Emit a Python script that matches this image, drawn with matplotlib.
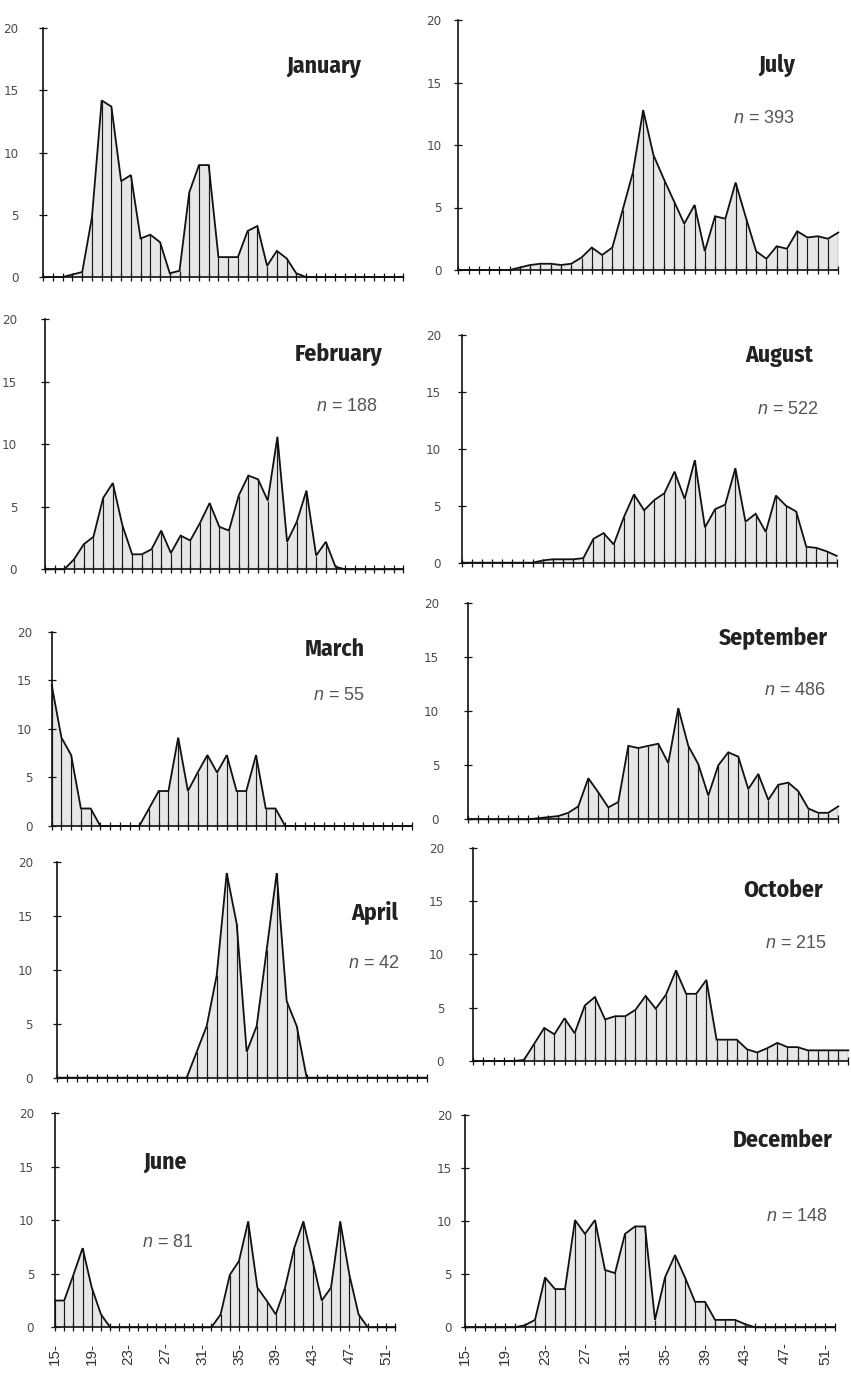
import numpy as np
import matplotlib
matplotlib.use("Agg")
import matplotlib.pyplot as plt

# Weekly categories (week 15 .. week 52)
weeks = np.arange(15, 53)
label_weeks = [15, 19, 23, 27, 31, 35, 39, 43, 47, 51]
y_ticks = [0, 5, 10, 15, 20]

months = ["January", "July", "February", "August", "March",
          "September", "April", "October", "June", "December"]
n_counts = [None, 393, 188, 522, 55, 486, 42, 215, 81, 148]

# Percentage of records per week
january = [0, 0, 0, 0.2, 0.4, 4.8, 14.2, 13.7, 7.7, 8.2, 3.1, 3.4, 2.8, 0.3, 0.5,
           6.8, 9.0, 9.0, 1.6, 1.6, 1.6, 3.7, 4.1, 0.9, 2.1, 1.5, 0.3,
           0, 0, 0, 0, 0, 0, 0, 0, 0, 0, 0]
july = [0, 0, 0, 0, 0, 0, 0.2, 0.4, 0.5, 0.5, 0.4, 0.5, 1.0, 1.8, 1.2, 1.8,
        4.8, 7.8, 12.8, 9.2, 7.3, 5.5, 3.7, 5.2, 1.5, 4.3, 4.1, 7.0, 4.2, 1.5,
        0.9, 1.9, 1.7, 3.1, 2.6, 2.7, 2.5, 3.0]
february = [0, 0, 0, 0.8, 2.0, 2.6, 5.7, 6.9, 3.5, 1.2, 1.2, 1.6, 3.1, 1.3, 2.7,
            2.3, 3.7, 5.3, 3.4, 3.1, 5.9, 7.5, 7.2, 5.5, 10.6, 2.2, 3.8, 6.3,
            1.1, 2.2, 0.2, 0, 0, 0, 0, 0, 0, 0]
august = [0, 0, 0, 0, 0, 0, 0, 0, 0.2, 0.3, 0.3, 0.3, 0.4, 2.1, 2.6, 1.6, 4.0,
          6.0, 4.6, 5.5, 6.1, 8.0, 5.6, 9.0, 3.1, 4.7, 5.1, 8.3, 3.6, 4.3, 2.7,
          5.9, 5.0, 4.5, 1.4, 1.3, 1.0, 0.6]
march = [14.5, 9.1, 7.3, 1.8, 1.8, 0, 0, 0, 0, 0, 1.8, 3.6, 3.6, 9.1, 3.6, 5.5,
         7.3, 5.5, 7.3, 3.6, 3.6, 7.3, 1.8, 1.8, 0, 0, 0, 0, 0, 0, 0, 0, 0, 0,
         0, 0, 0, 0]
september = [0, 0, 0, 0, 0, 0, 0, 0.1, 0.2, 0.3, 0.6, 1.2, 3.8, 2.5, 1.1, 1.6,
             6.8, 6.6, 6.8, 7.0, 5.2, 10.3, 6.8, 5.1, 2.2, 5.0, 6.2, 5.8, 2.8,
             4.2, 1.8, 3.2, 3.4, 2.6, 1.0, 0.6, 0.6, 1.2]
april = [0, 0, 0, 0, 0, 0, 0, 0, 0, 0, 0, 0, 0, 0, 2.4, 4.8, 9.5, 19.0, 14.3,
         2.4, 4.8, 11.9, 19.0, 7.1, 4.8, 0, 0, 0, 0, 0, 0, 0, 0, 0, 0, 0, 0, 0]
october = [0, 0, 0, 0, 0, 0.1, 1.6, 3.1, 2.5, 4.0, 2.6, 5.2, 6.0, 3.9, 4.2, 4.2,
           4.8, 6.1, 4.9, 6.2, 8.5, 6.3, 6.3, 7.6, 2.0, 2.0, 2.0, 1.1, 0.8, 1.2,
           1.7, 1.3, 1.3, 1.0, 1.0, 1.0, 1.0, 1.0]
june = [2.5, 2.5, 4.9, 7.4, 3.7, 1.2, 0, 0, 0, 0, 0, 0, 0, 0, 0, 0, 0, 0, 1.2,
        4.9, 6.2, 9.9, 3.7, 2.5, 1.2, 3.7, 7.4, 9.9, 6.2, 2.5, 3.7, 9.9, 4.9,
        1.2, 0, 0, 0, 0]
december = [0, 0, 0, 0, 0, 0, 0.2, 0.7, 4.7, 3.6, 3.6, 10.1, 8.8, 10.1, 5.4,
            5.1, 8.8, 9.5, 9.5, 0.7, 4.7, 6.8, 4.7, 2.4, 2.4, 0.7, 0.7, 0.7,
            0.3, 0, 0, 0, 0, 0, 0, 0, 0, 0]

series = [january, july, february, august, march,
          september, april, october, june, december]

# Panel frames in pixels: (x of week 15, x of week 52, y of 0 %, y of 20 %)
W, H = 851, 1374
frames = [
    (43.3, 403.3, 277.0, 28.3),
    (458.3, 838.3, 270.0, 20.0),
    (45.0, 403.3, 569.3, 319.3),
    (461.7, 836.7, 562.7, 335.0),
    (51.7, 411.7, 826.0, 631.7),
    (468.3, 838.3, 819.3, 603.3),
    (56.7, 426.7, 1077.7, 862.3),
    (473.3, 848.3, 1061.0, 847.7),
    (55.0, 395.4, 1327.3, 1113.3),
    (465.0, 835.0, 1327.3, 1115.0),
]
# Title / sample-size anchors (data coords) and alignment
title_pos = [(47.7, 16.9), (47.8, 16.4), (49.9, 17.2), (49.7, 18.2), (47.2, 18.2),
             (51.0, 16.7), (49.2, 15.4), (49.5, 16.0), (24.6, 15.5), (51.8, 17.6)]
n_pos = [None, (47.8, 12.1), (49.4, 13.0), (50.2, 13.5), (47.2, 13.4),
         (50.8, 11.9), (49.3, 10.6), (49.9, 11.0), (24.5, 7.9), (51.3, 10.4)]
align = ["right"] * 8 + ["left", "right"]
ypad = [15, 9, 17, 12, 11, 18, 14, 18, 12, 6.5]
bottom_row = {8, 9}

plt.rcParams["mathtext.fontset"] = "custom"
plt.rcParams["mathtext.it"] = "Liberation Sans:italic"
plt.rcParams["mathtext.rm"] = "Liberation Sans"

TITLE_FONT = ["Fira Sans Condensed", "DejaVu Sans"]
TICK_FONT = ["DejaVu Sans"]
REGULAR = ["Liberation Sans", "DejaVu Sans"]

fig = plt.figure(figsize=(W / 100, H / 100), dpi=100)
fig.patch.set_facecolor("white")

for i, (name, vals) in enumerate(zip(months, series)):
    x0, x1, y0, y20 = frames[i]
    ax = fig.add_axes([x0 / W, 1 - y0 / H, (x1 - x0) / W, (y0 - y20) / H])
    ax.set_xlim(15, 52)
    ax.set_ylim(0, 20)
    ax.patch.set_alpha(0)

    ax.fill_between(weeks, vals, 0, color="#e7e6e8", lw=0, zorder=1)
    ax.vlines(weeks, 0, vals, color="#1a1a1a", lw=0.85, zorder=2)
    ax.plot(weeks, vals, color="#111111", lw=1.3, zorder=3,
            solid_joinstyle="miter", clip_on=False)

    for s in ("top", "right"):
        ax.spines[s].set_visible(False)
    for s in ("left", "bottom"):
        ax.spines[s].set_linewidth(1.2)
        ax.spines[s].set_color("#111111")
        ax.spines[s].set_zorder(4)

    ax.set_yticks(y_ticks)
    ax.set_yticklabels([str(t) for t in y_ticks], family=TICK_FONT,
                       fontstretch="condensed", fontsize=9.5, color="#4a4a4a")
    ax.set_xticks(weeks)
    if i in bottom_row:
        ax.set_xticklabels([f"{w}-" if w in label_weeks else "" for w in weeks],
                           rotation=90, family=REGULAR, fontsize=11,
                           color="#333333")
    else:
        ax.set_xticklabels([])
    ax.tick_params(axis="x", direction="inout", length=6, width=0.9,
                   color="#111111", pad=8)
    ax.tick_params(axis="y", direction="inout", length=6, width=0.9,
                   color="#111111", pad=ypad[i])

    tx, ty = title_pos[i]
    ax.text(tx, ty, name, ha=align[i], va="center", family=TITLE_FONT,
            fontweight="bold", fontsize=17, color="#222222", clip_on=False)
    if n_counts[i] is not None:
        nx, ny = n_pos[i]
        ax.text(nx, ny, f"$n$ = {n_counts[i]}", ha=align[i], va="center",
                family=REGULAR, fontsize=13, color="#555555", clip_on=False)

fig.savefig("out.png", dpi=100, facecolor="white")
